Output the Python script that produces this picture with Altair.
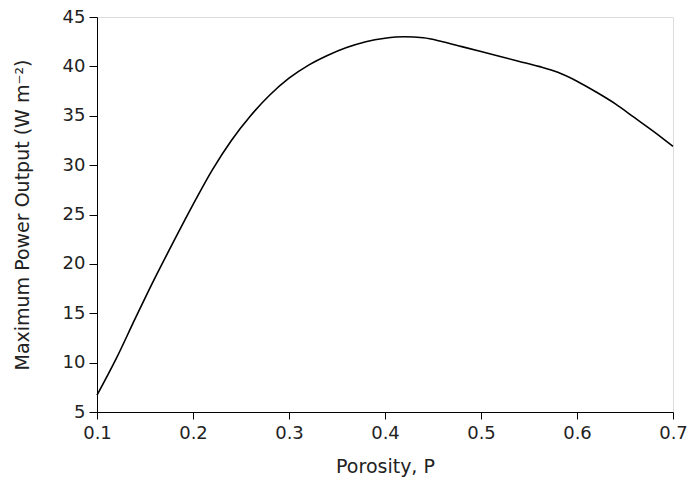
import altair as alt
import pandas as pd

porosity = [0.10, 0.12, 0.14, 0.16, 0.18, 0.20, 0.22, 0.24, 0.26, 0.28, 0.30,
            0.32, 0.34, 0.36, 0.38, 0.40, 0.42, 0.44, 0.46, 0.48, 0.50,
            0.52, 0.54, 0.56, 0.58, 0.60, 0.62, 0.64, 0.66, 0.68, 0.70]
power = [6.7, 10.4, 14.5, 18.5, 22.3, 26.0, 29.5, 32.5, 35.0, 37.1, 38.8,
         40.1, 41.1, 41.9, 42.5, 42.85, 43.0, 42.9, 42.5, 42.0, 41.5,
         41.0, 40.5, 40.0, 39.4, 38.5, 37.4, 36.2, 34.8, 33.4, 31.9]
x_ticks = [0.1, 0.2, 0.3, 0.4, 0.5, 0.6, 0.7]
y_ticks = [5, 10, 15, 20, 25, 30, 35, 40, 45]

df = pd.DataFrame({"P": porosity, "Power": power})

font = "DejaVu Sans"

chart = alt.Chart(df).mark_line(color="black", strokeWidth=1.6, interpolate="monotone").encode(
    x=alt.X("P:Q",
            scale=alt.Scale(domain=[0.1, 0.7], nice=False, zero=False),
            axis=alt.Axis(values=x_ticks, format=".1f", title="Porosity,  P",
                          labelFontSize=18, titleFontSize=19, tickSize=7,
                          labelPadding=5, titlePadding=15, grid=False,
                          labelFlush=False, labelOverlap=False,
                          domainColor="black", tickColor="black",
                          labelColor="#222", titleColor="#222",
                          labelFont=font, titleFont=font, titleFontWeight="normal")),
    y=alt.Y("Power:Q",
            scale=alt.Scale(domain=[5, 45], nice=False, zero=False),
            axis=alt.Axis(values=y_ticks, title="Maximum Power Output  (W m⁻²)",
                          labelFontSize=18, titleFontSize=19, tickSize=8,
                          labelPadding=4, titlePadding=30, grid=False,
                          labelFlush=False, labelOverlap=False,
                          domainColor="black", tickColor="black",
                          labelColor="#222", titleColor="#222",
                          labelFont=font, titleFont=font, titleFontWeight="normal")),
).properties(
    width=576, height=395,
    autosize=alt.AutoSizeParams(type="none"),
    padding={"left": 97, "top": 17, "right": 17, "bottom": 67},
).configure_view(
    stroke="black", strokeWidth=1
).configure(background="white")

chart.save("out.html", embed_options={"renderer": "svg", "actions": False})
